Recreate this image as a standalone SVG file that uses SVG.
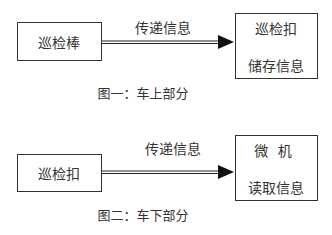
<svg xmlns="http://www.w3.org/2000/svg" width="332" height="235" viewBox="0 0 332 235">
<style>
.box{fill:#fff;stroke:#333;stroke-width:1}
.ln{stroke:#222;stroke-width:1;fill:none}
.ah{fill:#111}
text{font-family:"Noto Sans CJK SC","Noto Sans",sans-serif;fill:#333;text-anchor:middle;dominant-baseline:central}
.t{font-size:14px}
.c{font-size:13px}
</style>
<rect width="332" height="235" fill="#fff"/>
<g id="connectors">
<line class="ln" x1="101" y1="41" x2="220" y2="41"/>
<line class="ln" x1="101" y1="43.5" x2="220" y2="43.5"/>
<polygon class="ah" points="218,35 234,42 218,49"/>
<text class="t" x="163" y="27">传递信息</text>
<line class="ln" x1="101" y1="171" x2="220" y2="171"/>
<line class="ln" x1="101" y1="173.5" x2="220" y2="173.5"/>
<polygon class="ah" points="218,165 234,172 218,179"/>
<text class="t" x="173" y="148">传递信息</text>
</g>
<g id="node1">
<rect class="box" x="17.5" y="22.5" width="84" height="38"/>
<text class="t" x="59" y="42">巡检棒</text>
</g>
<g id="node2">
<rect class="box" x="235.5" y="13.5" width="82" height="65"/>
<text class="t" x="276" y="28">巡检扣</text>
<text class="t" x="276" y="65">储存信息</text>
</g>
<g id="node3">
<rect class="box" x="17.5" y="154.5" width="84" height="37"/>
<text class="t" x="59" y="173">巡检扣</text>
</g>
<g id="node4">
<rect class="box" x="235.5" y="135.5" width="82" height="65"/>
<text class="t" x="273" y="150" xml:space="preserve">微   机</text>
<text class="t" x="276" y="187">读取信息</text>
</g>
<text class="c" x="143" y="92">图一：车上部分</text>
<text class="c" x="143" y="214">图二：车下部分</text>
</svg>
